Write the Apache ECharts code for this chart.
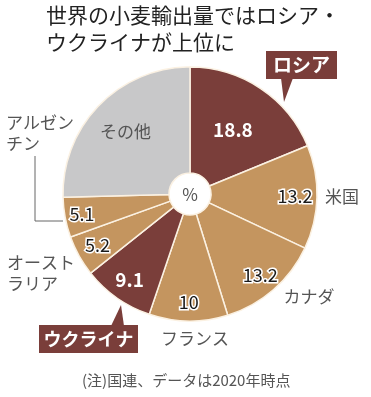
<!DOCTYPE html>
<html><head><meta charset="utf-8">
<script src="https://cdn.jsdelivr.net/npm/echarts@6/dist/echarts.min.js"></script>
<style>html,body{margin:0;padding:0;background:#fff}#c{width:371px;height:397px}</style>
</head><body><div id="c"></div>
<script>
const categories = ['ロシア','米国','カナダ','フランス','ウクライナ','オーストラリア','アルゼンチン','その他'];
const values = [18.8, 13.2, 13.2, 10, 9.1, 5.2, 5.1, 25.4];
const valueLabels = ['18.8','13.2','13.2','10','9.1','5.2','5.1','その他'];
const highlight = ['ロシア','ウクライナ'];

const DARK = '#7a3e3a', TAN = '#c4955f', GRAY = '#c8c8c9';
const FONT = '"Noto Sans CJK JP", "Noto Sans", sans-serif';
const CX = 190, CY = 194, R0 = 21, R1 = 127;
const labelR = [77, 105, 107, 108, 105, 106, 110, 90];

const total = values.reduce((a, b) => a + b, 0);
const mids = [];
let acc = 0;
values.forEach(v => { mids.push((acc + v / 2) / total); acc += v; });

const data = categories.map((name, i) => {
  const dark = highlight.includes(name);
  const other = i === categories.length - 1;
  return {
    name, value: values[i],
    itemStyle: { color: dark ? DARK : (other ? GRAY : TAN) },
    label: dark ? { color: '#fff', fontWeight: 'bold', fontSize: 19, textBorderWidth: 0 }
         : other ? { color: '#555', fontSize: 17, textBorderWidth: 0 }
         : { color: '#1a1a1a', fontSize: 18, textBorderColor: '#fff', textBorderWidth: 3 }
  };
});

const chart = echarts.init(document.getElementById('c'), null, { renderer: 'canvas' });

function txt(text, x, y, opt) {
  return { type: 'text', x, y, style: Object.assign({ text, font: '17px ' + FONT, fill: '#555', textAlign: 'left', textVerticalAlign: 'middle' }, opt || {}) };
}

chart.setOption({
  animation: false,
  backgroundColor: '#fff',
  series: [{
    type: 'pie',
    center: [CX, CY],
    radius: [R0, R1],
    startAngle: 90,
    clockwise: true,
    data,
    silent: true,
    itemStyle: { borderColor: '#fbf1e2', borderWidth: 1.5 },
    label: {
      show: true, position: 'inside', fontFamily: FONT,
      formatter: p => valueLabels[p.dataIndex]
    },
    labelLine: { show: false },
    labelLayout: p => {
      const a = mids[p.dataIndex] * 2 * Math.PI;
      const r = labelR[p.dataIndex];
      return { x: CX + r * Math.sin(a), y: CY - r * Math.cos(a) };
    },
    emphasis: { disabled: true }
  }],
  graphic: [
    txt('世界の小麦輸出量ではロシア・', 46, 15, { font: '21px ' + FONT, fill: '#222' }),
    txt('ウクライナが上位に', 46, 42, { font: '21px ' + FONT, fill: '#222' }),
    txt('%', CX, CY + 1, { font: '17px ' + FONT, fill: '#555', textAlign: 'center' }),
    txt(categories[1], 325, 197),
    txt(categories[2], 309, 297, { textAlign: 'center' }),
    txt(categories[3], 195, 339, { textAlign: 'center' }),
    txt('オースト', 7, 263),
    txt('ラリア', 7, 284),
    txt('アルゼン', 6, 123),
    txt('チン', 6, 144),
    { type: 'polyline', shape: { points: [[35, 156], [35, 221], [63, 221]] }, style: { stroke: '#666', lineWidth: 1, fill: null } },
    { type: 'polygon', shape: { points: [[281, 78], [293, 78], [284, 102]] }, style: { fill: DARK } },
    { type: 'rect', shape: { x: 266, y: 51, width: 71, height: 28 }, style: { fill: DARK } },
    txt(categories[0], 301.5, 65, { font: 'bold 19px ' + FONT, fill: '#fff', textAlign: 'center' }),
    { type: 'polygon', shape: { points: [[111, 326], [124, 326], [121, 305]] }, style: { fill: DARK } },
    { type: 'rect', shape: { x: 39, y: 325, width: 99, height: 28 }, style: { fill: DARK } },
    txt(categories[4], 88.5, 339, { font: 'bold 18px ' + FONT, fill: '#fff', textAlign: 'center' }),
    txt('(注)国連、データは2020年時点', 82, 380, { font: '15px ' + FONT, fill: '#555' })
  ]
});
</script></body></html>
